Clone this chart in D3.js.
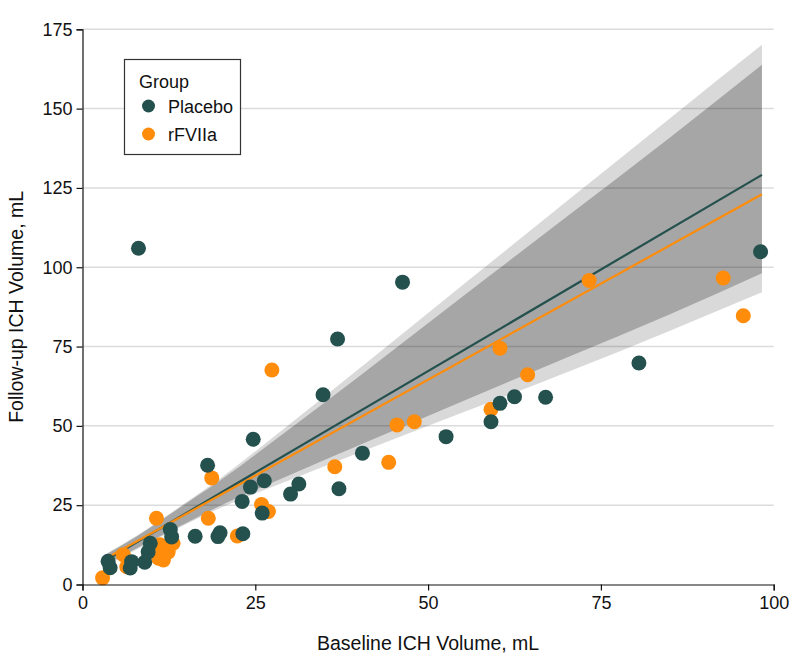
<!DOCTYPE html>
<html>
<head>
<meta charset="utf-8">
<script src="https://cdn.jsdelivr.net/npm/d3@7"></script>
<style>
  html, body { margin: 0; padding: 0; background: #fff; }
  svg { display: block; font-family: "Liberation Sans", Arial, sans-serif; }
</style>
</head>
<body>
<svg id="chart" width="794" height="671"></svg>
<script>
// ---------------- data ----------------
const placeboX = [8.1, 46.3, 36.9, 98.1, 80.5, 60.4, 62.5, 67.0, 59.1, 52.6, 40.5, 37.1, 34.8, 24.7, 18.1, 26.3, 24.3, 31.3, 30.1, 23.1, 26.0, 16.3, 19.6, 19.9, 23.2, 12.7, 12.9, 3.7, 4.0, 7.1, 6.9, 9.0, 9.8, 9.5];
const placeboY = [106.0, 95.3, 77.4, 104.9, 69.8, 57.1, 59.2, 59.0, 51.3, 46.6, 41.4, 30.2, 59.8, 45.8, 37.6, 32.7, 30.7, 31.7, 28.5, 26.2, 22.5, 15.2, 15.1, 16.3, 16.0, 17.3, 15.0, 7.3, 5.3, 7.2, 5.2, 7.0, 13.0, 10.3];

const rfviiaX = [2.9, 5.9, 6.4, 10.7, 11.0, 11.7, 12.4, 11.2, 13.1, 18.2, 18.7, 27.4, 25.9, 26.9, 22.4, 36.5, 44.3, 45.5, 48.0, 59.1, 60.4, 64.4, 73.3, 92.7, 95.6];
const rfviiaY = [2.1, 9.4, 5.6, 20.9, 8.3, 7.7, 10.3, 12.5, 13.0, 20.9, 33.6, 67.6, 25.2, 23.0, 15.3, 37.1, 38.5, 50.3, 51.3, 55.2, 74.5, 66.1, 95.8, 96.6, 84.7];

// fitted lines (endpoints)
const placeboFitX = [3.6, 98.3];
const placeboFitY = [7.9, 129.1];
const rfviiaFitX = [2.8, 98.3];
const rfviiaFitY = [7.5, 123.0];

// confidence bands (read at sample baseline volumes)
const ribbonX   = [3.2, 8, 14, 20, 30, 40, 55, 70, 85, 98.3];
const placeboLo = [6.0, 11.6, 18.3, 24.9, 34.5, 43.9, 57.8, 71.5, 85.2, 98.1];
const placeboHi = [9.4, 15.6, 24.4, 33.6, 50.6, 68.0, 94.4, 120.7, 147.0, 170.1];
const rfviiaLo  = [5.6, 11.3, 18.0, 24.2, 32.9, 41.5, 54.2, 66.8, 80.0, 92.1];
const rfviiaHi  = [9.2, 15.4, 24.1, 32.9, 49.1, 65.6, 90.8, 115.8, 140.9, 163.8];

const xTicks = [0, 25, 50, 75, 100];
const yTicks = [0, 25, 50, 75, 100, 125, 150, 175];
const groups = ["Placebo", "rFVIIa"];
const groupColors = ["#24514e", "#ff8c0a"];

// ---------------- chart ----------------
const svg = d3.select("#chart");
const x = d3.scaleLinear().domain([0, 100]).range([82.5, 773.7]);
const y = d3.scaleLinear().domain([0, 175]).range([584.5, 29.3]);

// gridlines
svg.append("g").selectAll("line").data(yTicks.filter(d => d > 0)).join("line")
  .attr("x1", x(0)).attr("x2", x(100))
  .attr("y1", d => y(d)).attr("y2", d => y(d))
  .attr("stroke", "#dcdcdc").attr("stroke-width", 1.5);

// ribbons: outer (union) and inner (overlap)
const band = ribbonX.map((d, i) => ({x: d, pl: placeboLo[i], ph: placeboHi[i], rl: rfviiaLo[i], rh: rfviiaHi[i]}));
const outer = d3.area().curve(d3.curveMonotoneX)
  .x(d => x(d.x)).y0(d => y(d.rl)).y1(d => y(d.ph));
const inner = d3.area().curve(d3.curveMonotoneX)
  .x(d => x(d.x)).y0(d => y(d.pl)).y1(d => y(d.rh));
svg.append("path").datum(band).attr("d", outer).attr("fill", "#000").attr("fill-opacity", 0.15);
svg.append("path").datum(band).attr("d", inner).attr("fill", "#000").attr("fill-opacity", 0.235);

// fit lines
const lineGen = d3.line().x(d => x(d[0])).y(d => y(d[1]));
svg.append("path").datum(placeboFitX.map((d, i) => [d, placeboFitY[i]]))
  .attr("d", lineGen).attr("stroke", groupColors[0]).attr("stroke-width", 2.2).attr("fill", "none");
svg.append("path").datum(rfviiaFitX.map((d, i) => [d, rfviiaFitY[i]]))
  .attr("d", lineGen).attr("stroke", groupColors[1]).attr("stroke-width", 2.2).attr("fill", "none");

// points (rFVIIa first, placebo on top)
svg.append("g").selectAll("circle").data(rfviiaX.map((d, i) => [d, rfviiaY[i]])).join("circle")
  .attr("cx", d => x(d[0])).attr("cy", d => y(d[1])).attr("r", 7.5).attr("fill", groupColors[1]);
svg.append("g").selectAll("circle").data(placeboX.map((d, i) => [d, placeboY[i]])).join("circle")
  .attr("cx", d => x(d[0])).attr("cy", d => y(d[1])).attr("r", 7.5).attr("fill", groupColors[0]);

// axes
const xAxis = d3.axisBottom(x).tickValues(xTicks).tickSize(6).tickPadding(6).tickFormat(d3.format("d"));
const yAxis = d3.axisLeft(y).tickValues(yTicks).tickSize(6).tickPadding(4).tickFormat(d3.format("d"));
const gx = svg.append("g").attr("transform", `translate(0,${y(0)})`).call(xAxis);
const gy = svg.append("g").attr("transform", `translate(${x(0)},0)`).call(yAxis);
[gx, gy].forEach(g => {
  g.select(".domain").attr("stroke", "#111").attr("stroke-width", 1.2);
  g.selectAll(".tick line").attr("stroke", "#111").attr("stroke-width", 1.2);
  g.selectAll(".tick text").attr("font-size", 18).attr("fill", "#111")
    .style("font-family", "'Liberation Sans', Arial, sans-serif");
});

// axis titles
svg.append("text").attr("x", (x(0) + x(100)) / 2).attr("y", 650)
  .attr("text-anchor", "middle").attr("font-size", 19.5).attr("fill", "#111")
  .text("Baseline ICH Volume, mL");
svg.append("text").attr("transform", `translate(23,${(y(0) + y(175)) / 2}) rotate(-90)`)
  .attr("text-anchor", "middle").attr("font-size", 19.5).attr("fill", "#111")
  .text("Follow-up ICH Volume, mL");

// legend
const lg = svg.append("g");
lg.append("rect").attr("x", 124.5).attr("y", 59.5).attr("width", 116).attr("height", 95)
  .attr("fill", "#fff").attr("stroke", "#333").attr("stroke-width", 1.2);
lg.append("text").attr("x", 139).attr("y", 88).attr("font-size", 18).attr("fill", "#111").text("Group");
groups.forEach((g, i) => {
  lg.append("circle").attr("cx", 148.5).attr("cy", 106 + i * 28).attr("r", 6.5).attr("fill", groupColors[i]);
  lg.append("text").attr("x", 168).attr("y", 112.5 + i * 28).attr("font-size", 18).attr("fill", "#111").text(g);
});
</script>
</body>
</html>
